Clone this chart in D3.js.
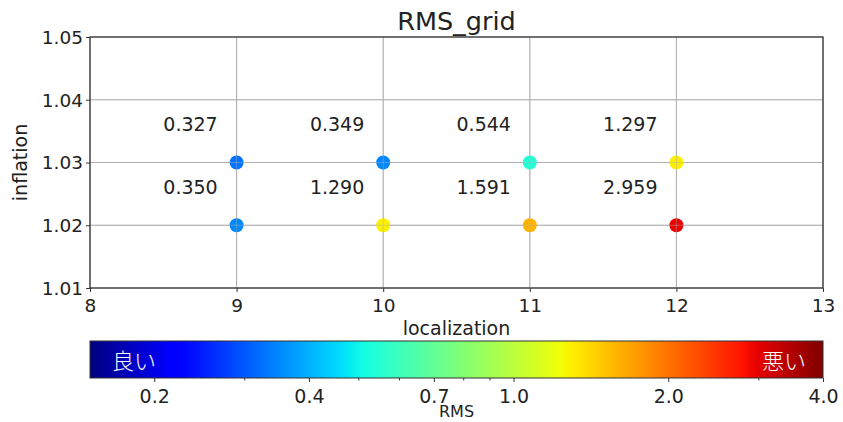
<!DOCTYPE html>
<html><head><meta charset="utf-8">
<script src="https://cdn.jsdelivr.net/npm/d3@7"></script>
<style>body{margin:0;background:#fff;} svg{display:block;}</style>
</head><body>
<svg id="chart" width="843" height="422"></svg>
<script>
// ---- data ----
const localization = [9, 9, 10, 10, 11, 11, 12, 12];
const inflation = [1.03, 1.02, 1.03, 1.02, 1.03, 1.02, 1.03, 1.02];
const rms = [0.327, 0.350, 0.349, 1.290, 0.544, 1.591, 1.297, 2.959];
const xTicks = [8, 9, 10, 11, 12, 13];
const yTicks = [1.01, 1.02, 1.03, 1.04, 1.05];
const cbTicks = [0.2, 0.4, 0.7, 1.0, 2.0, 4.0];
const cbTickLabels = ["0.2", "0.4", "0.7", "1.0", "2.0", "4.0"];
const cbMinorTicks = [0.3, 0.5, 0.6, 0.8, 0.9, 3.0];
const rmsDomain = [0.15, 4.0];
const title = "RMS_grid";
const xLabel = "localization";
const yLabel = "inflation";
const cbLabel = "RMS";
const goodLabel = "良い";
const badLabel = "悪い";

// ---- jet colormap ----
function seg(pts, t) {
  for (let i = 1; i < pts.length; i++) {
    if (t <= pts[i][0]) {
      const [x0, y0] = pts[i - 1], [x1, y1] = pts[i];
      return y0 + (y1 - y0) * (t - x0) / (x1 - x0);
    }
  }
  return pts[pts.length - 1][1];
}
const R = [[0, 0], [0.35, 0], [0.66, 1], [0.89, 1], [1, 0.5]];
const G = [[0, 0], [0.125, 0], [0.375, 1], [0.64, 1], [0.91, 0], [1, 0]];
const B = [[0, 0.5], [0.11, 1], [0.34, 1], [0.65, 0], [1, 0]];
function jet(t) {
  t = Math.max(0, Math.min(1, t));
  return d3.rgb(seg(R, t) * 255, seg(G, t) * 255, seg(B, t) * 255).formatHex();
}

const svg = d3.select("#chart");
const font = "'DejaVu Sans', sans-serif";
const txt = "#222";
const m = {left: 90, right: 823, top: 37, bottom: 288};

const x = d3.scaleLinear().domain([8, 13]).range([m.left, m.right]);
const y = d3.scaleLinear().domain([1.01, 1.05]).range([m.bottom, m.top]);
const norm = d3.scaleLog().domain(rmsDomain).range([0, 1]);

// grid
const grid = svg.append("g");
function drawGrid(g, op) {
  g.selectAll(".gx").data(xTicks).join("line")
    .attr("x1", d => x(d)).attr("x2", d => x(d)).attr("y1", m.top).attr("y2", m.bottom)
    .attr("stroke", "#b0b0b0").attr("stroke-width", 1).attr("opacity", op);
  g.selectAll(".gy").data(yTicks).join("line")
    .attr("y1", d => y(d)).attr("y2", d => y(d)).attr("x1", m.left).attr("x2", m.right)
    .attr("stroke", "#b0b0b0").attr("stroke-width", 1).attr("opacity", op);
}
drawGrid(grid, 1);

// points
const idx = d3.range(rms.length);
svg.append("g").selectAll("circle").data(idx).join("circle")
  .attr("cx", i => x(localization[i])).attr("cy", i => y(inflation[i]))
  .attr("r", 7).attr("fill", i => jet(norm(rms[i])));
drawGrid(svg.append("g"), 0.45);

// labels
svg.append("g").selectAll("text").data(idx).join("text")
  .attr("x", i => x(localization[i] - 0.5)).attr("y", i => y(inflation[i] + 0.005))
  .attr("font-family", font).attr("font-size", 19).attr("fill", txt)
  .text(i => rms[i].toFixed(3));

// axes
const xAxis = svg.append("g").attr("transform", `translate(0,${m.bottom})`)
  .call(d3.axisBottom(x).tickValues(xTicks).tickFormat(d3.format("d")).tickSize(4).tickSizeOuter(0));
const yAxis = svg.append("g").attr("transform", `translate(${m.left},0)`)
  .call(d3.axisLeft(y).tickValues(yTicks).tickFormat(d3.format(".2f")).tickSize(4).tickSizeOuter(0));
[xAxis, yAxis].forEach(a => {
  a.select(".domain").remove();
  a.selectAll("line").attr("stroke", "#333");
  a.selectAll("text").attr("font-family", font).attr("font-size", 18.5).attr("fill", txt);
});
xAxis.selectAll("text").attr("dy", "0").attr("y", 24);
yAxis.selectAll("text").attr("dy", "0.35em").attr("x", -7);

// frame
svg.append("rect").attr("x", m.left).attr("y", m.top)
  .attr("width", m.right - m.left).attr("height", m.bottom - m.top)
  .attr("fill", "none").attr("stroke", "#333").attr("stroke-width", 1.2);

// titles
svg.append("text").attr("x", (m.left + m.right) / 2).attr("y", 30)
  .attr("text-anchor", "middle").attr("font-family", font).attr("font-size", 25.5).attr("fill", txt)
  .text(title);
svg.append("text").attr("x", (m.left + m.right) / 2).attr("y", 335)
  .attr("text-anchor", "middle").attr("font-family", font).attr("font-size", 19).attr("fill", txt)
  .text(xLabel);
svg.append("text").attr("transform", `translate(27,${(m.top + m.bottom) / 2}) rotate(-90)`)
  .attr("text-anchor", "middle").attr("font-family", font).attr("font-size", 19).attr("fill", txt)
  .text(yLabel);

// colorbar
const cb = {left: 90, right: 823, top: 341, bottom: 378};
const cx = d3.scaleLog().domain(rmsDomain).range([cb.left, cb.right]);
const defs = svg.append("defs");
const grad = defs.append("linearGradient").attr("id", "jetgrad").attr("x1", "0%").attr("x2", "100%");
grad.selectAll("stop").data(d3.range(0, 1.0001, 0.01)).join("stop")
  .attr("offset", d => (d * 100) + "%").attr("stop-color", d => jet(d));
svg.append("rect").attr("x", cb.left).attr("y", cb.top)
  .attr("width", cb.right - cb.left).attr("height", cb.bottom - cb.top)
  .attr("fill", "url(#jetgrad)").attr("stroke", "#333").attr("stroke-width", 1);

const cbAxis = svg.append("g").attr("transform", `translate(0,${cb.bottom})`)
  .call(d3.axisBottom(cx).tickValues(cbTicks).tickFormat((d, i) => cbTickLabels[i]).tickSize(4).tickSizeOuter(0));
cbAxis.select(".domain").remove();
cbAxis.selectAll("line").attr("stroke", "#333");
cbAxis.selectAll("text").attr("font-family", font).attr("font-size", 19).attr("fill", txt)
  .attr("dy", "0").attr("y", 25);
svg.append("g").selectAll("line").data(cbMinorTicks).join("line")
  .attr("x1", d => cx(d)).attr("x2", d => cx(d)).attr("y1", cb.bottom).attr("y2", cb.bottom + 2.5)
  .attr("stroke", "#333");

svg.append("text").attr("x", (cb.left + cb.right) / 2).attr("y", 417)
  .attr("text-anchor", "middle").attr("font-family", font).attr("font-size", 16).attr("fill", txt)
  .text(cbLabel);

const cjk = "'Noto Sans CJK JP', sans-serif";
svg.append("text").attr("x", 112).attr("y", 369)
  .attr("font-family", cjk).attr("font-weight", 300).attr("font-size", 22).attr("fill", "#fff").text(goodLabel);
svg.append("text").attr("x", 806).attr("y", 369).attr("text-anchor", "end")
  .attr("font-family", cjk).attr("font-weight", 300).attr("font-size", 22).attr("fill", "#fff").text(badLabel);
</script>
</body></html>
